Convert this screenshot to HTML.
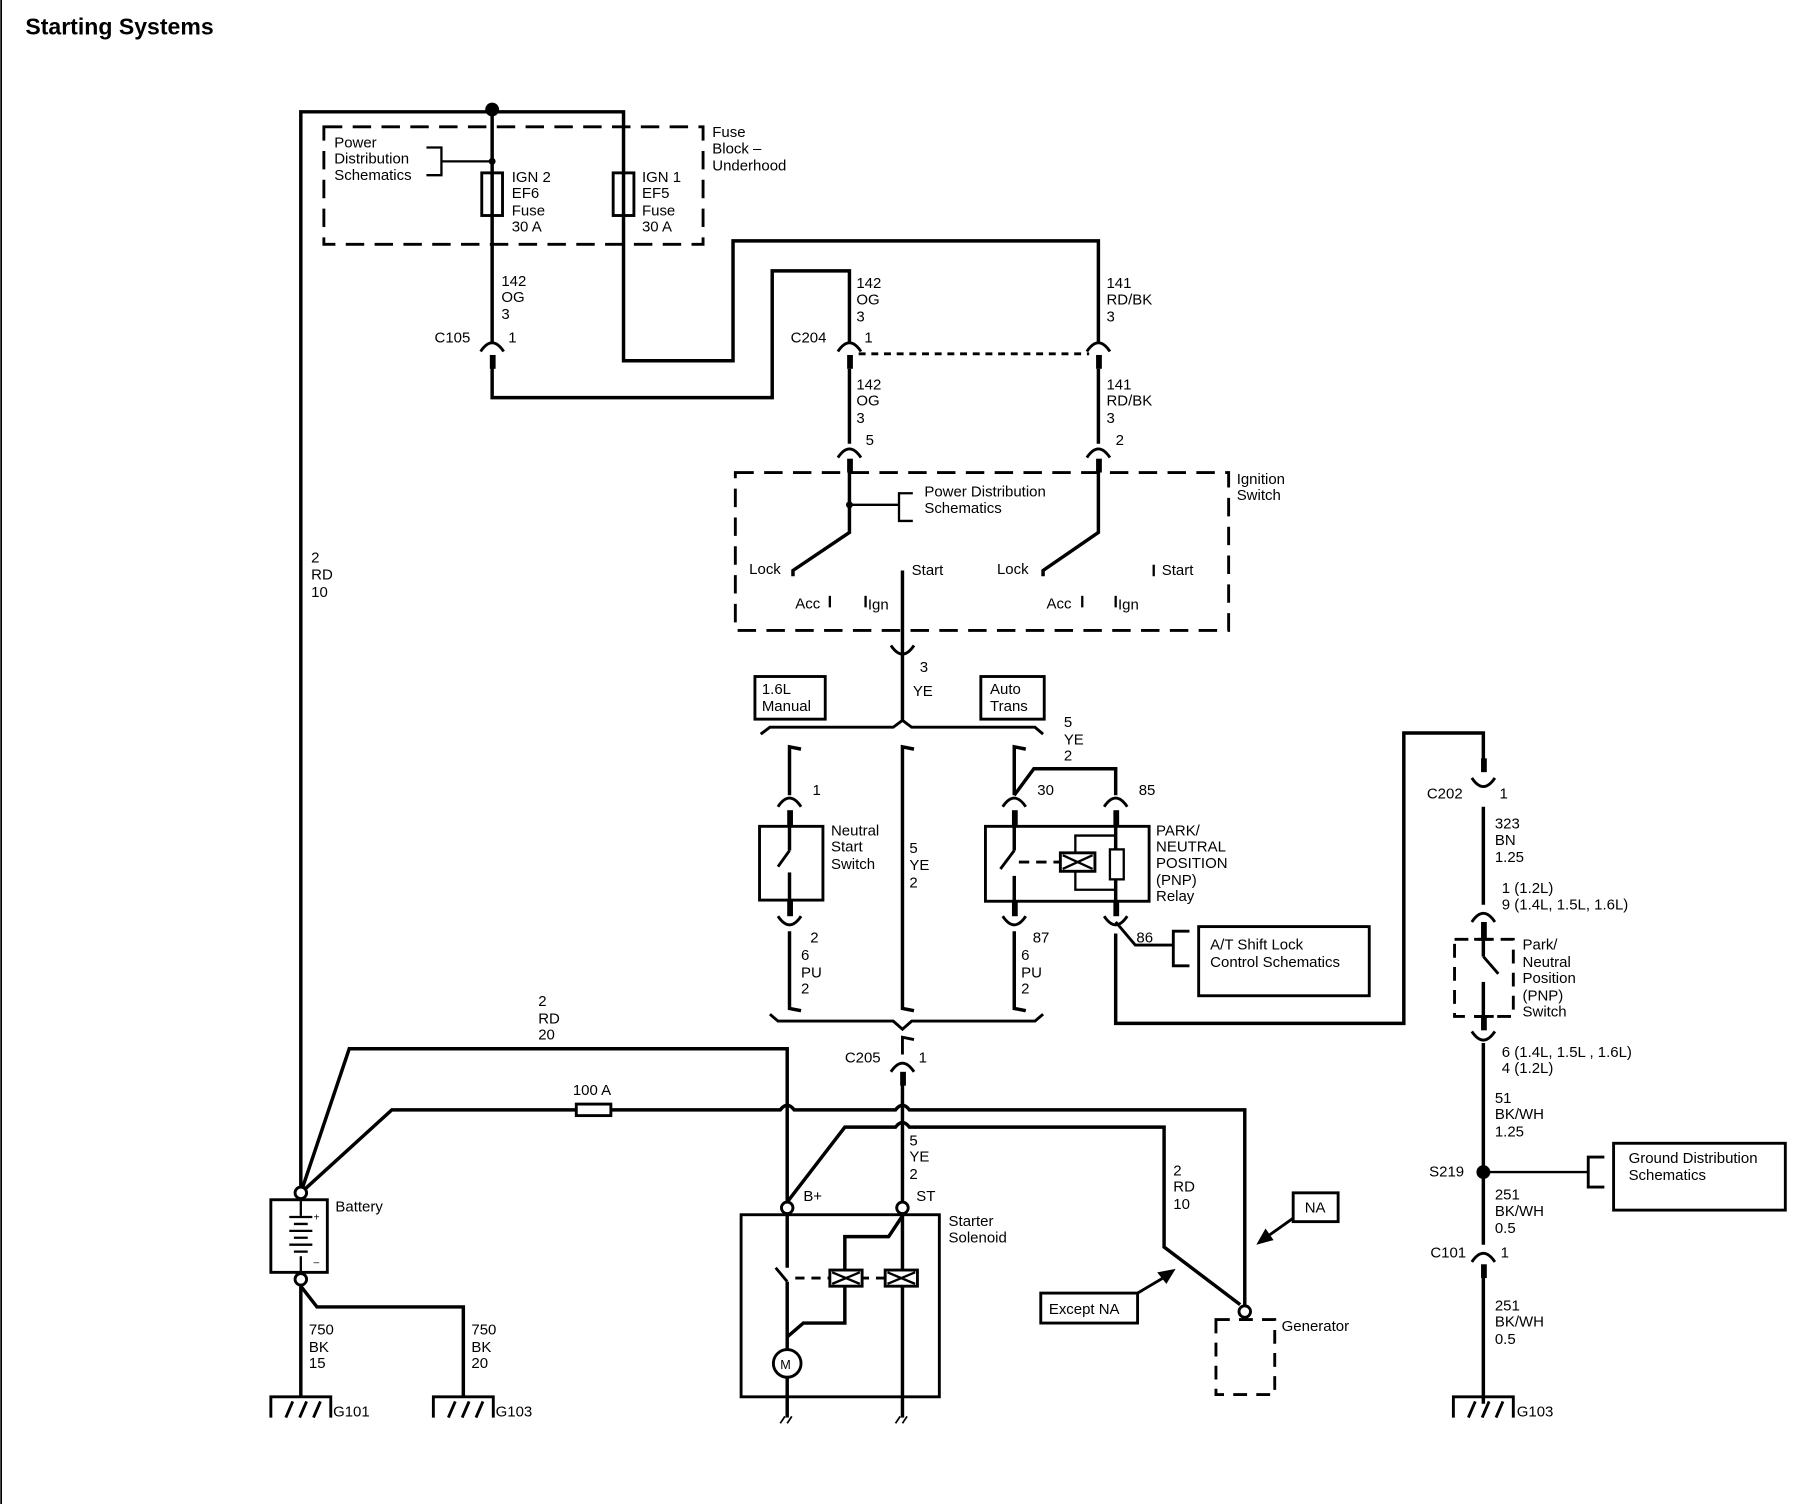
<!DOCTYPE html>
<html><head><meta charset="utf-8"><style>
html,body{margin:0;padding:0;background:#fff}
svg{display:block}
text{font-family:"Liberation Sans",sans-serif;font-size:13px;fill:#000}
</style></head><body>
<svg width="1798" height="1504" viewBox="0 0 1560 1305" preserveAspectRatio="none" xmlns="http://www.w3.org/2000/svg">
<rect x="0" y="0" width="1560" height="1305" fill="#fff"/>
<line x1="1" y1="0" x2="1" y2="1305" stroke="#000" stroke-width="1.5"/>
<text x="22" y="30" style="font-size:20px;font-weight:bold">Starting Systems</text>
<g fill="none" stroke="#000" stroke-width="3">
<polyline points="261,1035 261,97 541,97 541,313 636,313 636,209 953,209 953,298"/>
<line x1="427" y1="97" x2="427" y2="297"/>
<polyline points="427,318 427,345 670,345 670,235 737,235 737,297"/>
<rect x="418" y="150" width="18" height="37" stroke-width="2.5"/>
<rect x="532" y="150" width="18" height="37" stroke-width="2.5"/>
<polyline points="370,128 383,128 383,152 370,152" stroke-width="2"/>
<line x1="383" y1="140" x2="427" y2="140" stroke-width="2"/>
<line x1="737" y1="320" x2="737" y2="385"/>
<line x1="953" y1="320" x2="953" y2="385"/>
<polyline points="737,407 737,462 688,495 688,500"/>
<polyline points="953,407 953,462 905,495 905,500"/>
<line x1="737" y1="438" x2="780" y2="438" stroke-width="2"/>
<polyline points="792,428 780,428 780,452 792,452" stroke-width="2"/>
<line x1="783" y1="495" x2="783" y2="625"/>
<polyline points="660,637 668,631 775,631 783,625 791,631 898,631 905,637" stroke-width="2.5"/>
<polyline points="668,880 675,886 775,886 783,893 791,886 898,886 905,880" stroke-width="2.5"/>
<polyline points="695,650 685,648 685,690" />
<polyline points="793,650 783,648 783,875 793,877"/>
<polyline points="890,650 880,648 880,690"/>
<polyline points="685,808 685,875 695,877"/>
<polyline points="880,808 880,875 890,877"/>
<rect x="659" y="717" width="55" height="64" stroke-width="2.5"/>
<line x1="685" y1="717" x2="685" y2="738"/>
<line x1="685" y1="738" x2="675" y2="752" stroke-width="2.5"/>
<line x1="685" y1="757" x2="685" y2="781"/>
<polyline points="880,690 897,667 968,667 968,690"/>
<rect x="855" y="717" width="142" height="65" stroke-width="2.5"/>
<line x1="880" y1="717" x2="880" y2="738"/>
<line x1="880" y1="738" x2="868" y2="754" stroke-width="2.5"/>
<line x1="880" y1="760" x2="880" y2="782"/>
<line x1="884" y1="748" x2="920" y2="748" stroke-dasharray="9,6" stroke-width="2.5"/>
<line x1="968" y1="717" x2="968" y2="782"/>
<rect x="963" y="737" width="12" height="26" stroke-width="2" fill="#fff"/>
<polyline points="968,725 933,725 933,772 968,772" stroke-width="2"/>
<rect x="920" y="740" width="30" height="16" stroke-width="2.5" fill="#fff"/>
<path d="M922,742 L948,754 M922,754 L948,742" stroke-width="2"/>
<polyline points="968,800 985,820 1018,820" stroke-width="2.5"/>
<polyline points="1032,808 1018,808 1018,838 1032,838" stroke-width="2.5"/>
<rect x="1040" y="804" width="148" height="60" stroke-width="2.5"/>
<polyline points="968,810 968,888 1218,888 1218,636 1287,636 1287,668"/>
<line x1="1287" y1="700" x2="1287" y2="785"/>
<rect x="1262" y="815" width="51" height="67" stroke-width="2.5" stroke-dasharray="12,8"/>
<line x1="1287" y1="808" x2="1287" y2="830"/>
<line x1="1287" y1="830" x2="1300" y2="845" stroke-width="2.5"/>
<line x1="1287" y1="852" x2="1287" y2="882"/>
<line x1="1279" y1="815" x2="1296" y2="815" stroke-width="2.5"/>
<line x1="1279" y1="882" x2="1296" y2="882" stroke-width="2.5"/>
<line x1="1287" y1="905" x2="1287" y2="1080"/>
<line x1="1287" y1="1017" x2="1378" y2="1017" stroke-width="2"/>
<polyline points="1392,1004 1378,1004 1378,1030 1392,1030" stroke-width="2.5"/>
<rect x="1400" y="992" width="149" height="58" stroke-width="2.5"/>
<line x1="1287" y1="1100" x2="1287" y2="1218"/>
<rect x="638" y="410" width="428" height="137" stroke-width="2.5" stroke-dasharray="16,9"/>
<rect x="281" y="110" width="329" height="102" stroke-width="2.5" stroke-dasharray="16,9"/>
<line x1="745" y1="307" x2="945" y2="307" stroke-dasharray="6,5" stroke-width="2.5"/>
<line x1="783" y1="940" x2="783" y2="1043"/>
<polyline points="261,1035 303,910 683,910 683,1043"/>
<path d="M261,1035 L340,963 L500,963 M530,963 L677,963 Q683,955 689,963 L777,963 Q783,955 789,963 L1080,963 L1080,1132"/>
<rect x="500" y="958" width="30" height="10" stroke-width="2.5" fill="#fff"/>
<path d="M683,1043 L733,978 L777,978 Q783,970 789,978 L1010,978 L1010,1082 L1076,1132"/>
<rect x="643" y="1054" width="172" height="158" stroke-width="2.5"/>
<line x1="683" y1="1054" x2="683" y2="1100"/>
<line x1="673" y1="1100" x2="683" y2="1112" stroke-width="2.5"/>
<line x1="683" y1="1112" x2="683" y2="1171"/>
<line x1="683" y1="1195" x2="683" y2="1230"/>
<circle cx="683" cy="1183" r="12" stroke-width="2.5"/>
<line x1="783" y1="1054" x2="783" y2="1230"/>
<polyline points="783,1055 771,1073 733,1073 733,1102"/>
<polyline points="733,1116 733,1148 697,1148 683,1160"/>
<line x1="690" y1="1109" x2="768" y2="1109" stroke-width="2.5" stroke-dasharray="8,6"/>
<rect x="720" y="1102" width="28" height="14" stroke-width="2.5" fill="#fff"/>
<rect x="768" y="1102" width="28" height="14" stroke-width="2.5" fill="#fff"/>
<path d="M722,1104 L746,1114 M722,1114 L746,1104 M770,1104 L794,1114 M770,1114 L794,1104" stroke-width="2"/>
<rect x="235" y="1041" width="49" height="63" stroke-width="2.5"/>
<line x1="261" y1="1041" x2="261" y2="1055" stroke-width="2"/>
<line x1="261" y1="1090" x2="261" y2="1104" stroke-width="2"/>
<path d="M251,1056 H271 M255,1062 H267 M251,1068 H271 M255,1074 H267 M251,1080 H271 M255,1086 H267" stroke-width="2"/>
<polyline points="261,1116 261,1212"/>
<polyline points="261,1116 275,1134 402,1134 402,1212"/>
<rect x="1055" y="1145" width="51" height="65" stroke-width="2.5" stroke-dasharray="12,8"/>
<rect x="903" y="1122" width="84" height="26" stroke-width="2.5"/>
<rect x="1122" y="1035" width="39" height="25" stroke-width="2.5"/>
<line x1="987" y1="1122" x2="1014" y2="1106" stroke-width="2.5"/>
<line x1="1122" y1="1057" x2="1098" y2="1074" stroke-width="2.5"/>
<rect x="655" y="587" width="61" height="37" stroke-width="2.5"/>
<rect x="851" y="587" width="55" height="37" stroke-width="2.5"/>
<g stroke-width="2.5">
<path d="M235,1230 V1212 H287 V1230 M248,1230 L254,1216 M260,1230 L266,1216 M272,1230 L278,1216"/>
<path d="M376,1230 V1212 H428 V1230 M389,1230 L395,1216 M401,1230 L407,1216 M413,1230 L419,1216"/>
<path d="M1261,1230 V1212 H1313 V1230 M1274,1230 L1280,1216 M1286,1230 L1292,1216 M1298,1230 L1304,1216"/>
<path d="M677,1235 L681,1229 M683,1235 L687,1229 M777,1235 L781,1229 M783,1235 L787,1229" stroke-width="1.5"/>
</g>
<g stroke-width="2.5">
<path d="M417,305 Q427,290 437,305"/>
<path d="M727,305 Q737,290 747,305"/>
<path d="M943,305 Q953,290 963,305"/>
<path d="M727,397 Q737,382 747,397"/>
<path d="M943,397 Q953,382 963,397"/>
<path d="M675,700 Q685,685 695,700"/>
<path d="M870,700 Q880,685 890,700"/>
<path d="M958,700 Q968,685 978,700"/>
<path d="M675,795 Q685,810 695,795"/>
<path d="M870,795 Q880,810 890,795"/>
<path d="M958,795 Q968,810 978,795"/>
<path d="M773,930 Q783,915 793,930"/>
<path d="M793,902 L783,900 L783,915"/>
<path d="M773,560 Q783,575 793,560 M783,575 V580"/>
<path d="M1277,675 Q1287,690 1297,675"/>
<path d="M1277,800 Q1287,785 1297,800"/>
<path d="M1277,895 Q1287,910 1297,895"/>
<path d="M1277,1095 Q1287,1080 1297,1095"/>
</g>
</g>
<g fill="#000">
<rect x="425" y="308" width="5" height="12"/>
<rect x="735" y="308" width="5" height="12"/>
<rect x="951" y="308" width="5" height="12"/>
<rect x="735" y="398" width="5" height="12"/>
<rect x="951" y="398" width="5" height="12"/>
<rect x="683" y="703" width="5" height="14"/>
<rect x="878" y="703" width="5" height="14"/>
<rect x="966" y="703" width="5" height="14"/>
<rect x="683" y="781" width="5" height="14"/>
<rect x="878" y="781" width="5" height="14"/>
<rect x="966" y="781" width="5" height="14"/>
<rect x="781" y="930" width="5" height="12"/>
<rect x="1285" y="658" width="5" height="12"/>
<rect x="1285" y="800" width="5" height="16"/>
<rect x="1285" y="882" width="5" height="12"/>
<rect x="1285" y="1097" width="5" height="12"/>
<circle cx="427" cy="95" r="6"/>
<circle cx="427" cy="140" r="3"/>
<circle cx="737" cy="438" r="3"/>
<circle cx="1287" cy="1017" r="6"/>
<rect x="719" y="517" width="2" height="10"/><rect x="750" y="517" width="2" height="10"/>
<rect x="938" y="517" width="2" height="10"/><rect x="967" y="517" width="2" height="10"/>
<rect x="1000" y="490" width="2" height="10"/>
</g>
<g fill="#fff" stroke="#000" stroke-width="2.5">
<circle cx="683" cy="1048" r="5"/><circle cx="783" cy="1048" r="5"/>
<circle cx="261" cy="1035" r="5"/><circle cx="261" cy="1110" r="5"/>
<circle cx="1080" cy="1138" r="5"/>
</g>
<polygon points="1020,1101 1004,1104 1012,1114" fill="#000"/>
<polygon points="1090,1080 1098,1066 1105,1076" fill="#000"/>
<text x="290" y="128">Power</text><text x="290" y="142">Distribution</text><text x="290" y="156">Schematics</text>
<text x="444" y="158">IGN 2</text><text x="444" y="172">EF6</text><text x="444" y="187">Fuse</text><text x="444" y="201">30 A</text>
<text x="557" y="158">IGN 1</text><text x="557" y="172">EF5</text><text x="557" y="187">Fuse</text><text x="557" y="201">30 A</text>
<text x="618" y="119">Fuse</text><text x="618" y="133">Block –</text><text x="618" y="148">Underhood</text>
<text x="435" y="248">142</text><text x="435" y="262">OG</text><text x="435" y="277">3</text>
<text x="377" y="297">C105</text><text x="441" y="297">1</text>
<text x="743" y="250">142</text><text x="743" y="264">OG</text><text x="743" y="279">3</text>
<text x="686" y="297">C204</text><text x="750" y="297">1</text>
<text x="960" y="250">141</text><text x="960" y="264">RD/BK</text><text x="960" y="279">3</text>
<text x="743" y="338">142</text><text x="743" y="352">OG</text><text x="743" y="367">3</text><text x="751" y="386">5</text>
<text x="960" y="338">141</text><text x="960" y="352">RD/BK</text><text x="960" y="367">3</text><text x="968" y="386">2</text>
<text x="1073" y="420">Ignition</text><text x="1073" y="434">Switch</text>
<text x="802" y="431">Power Distribution</text><text x="802" y="445">Schematics</text>
<text x="650" y="498">Lock</text><text x="690" y="528">Acc</text><text x="753" y="529">Ign</text><text x="791" y="499">Start</text>
<text x="865" y="498">Lock</text><text x="908" y="528">Acc</text><text x="970" y="529">Ign</text><text x="1008" y="499">Start</text>
<text x="270" y="488">2</text><text x="270" y="503">RD</text><text x="270" y="518">10</text>
<text x="798" y="583">3</text><text x="792" y="604">YE</text>
<text x="661" y="602">1.6L</text><text x="661" y="617">Manual</text>
<text x="859" y="602">Auto</text><text x="859" y="617">Trans</text>
<text x="923" y="631">5</text><text x="923" y="646">YE</text><text x="923" y="660">2</text>
<text x="705" y="690">1</text>
<text x="900" y="690">30</text><text x="988" y="690">85</text>
<text x="721" y="725">Neutral</text><text x="721" y="739">Start</text><text x="721" y="754">Switch</text>
<text x="789" y="740">5</text><text x="789" y="755">YE</text><text x="789" y="770">2</text>
<text x="1003" y="725">PARK/</text><text x="1003" y="739">NEUTRAL</text><text x="1003" y="753">POSITION</text><text x="1003" y="768">(PNP)</text><text x="1003" y="782">Relay</text>
<text x="703" y="818">2</text><text x="695" y="833">6</text><text x="695" y="848">PU</text><text x="695" y="862">2</text>
<text x="896" y="818">87</text><text x="886" y="833">6</text><text x="886" y="848">PU</text><text x="886" y="862">2</text>
<text x="986" y="818">86</text>
<text x="1050" y="824">A/T Shift Lock</text><text x="1050" y="839">Control Schematics</text>
<text x="1238" y="693">C202</text><text x="1301" y="693">1</text>
<text x="1297" y="719">323</text><text x="1297" y="733">BN</text><text x="1297" y="748">1.25</text>
<text x="1303" y="775">1 (1.2L)</text><text x="1303" y="789">9 (1.4L, 1.5L, 1.6L)</text>
<text x="1321" y="824">Park/</text><text x="1321" y="839">Neutral</text><text x="1321" y="853">Position</text><text x="1321" y="868">(PNP)</text><text x="1321" y="882">Switch</text>
<text x="1303" y="917">6 (1.4L, 1.5L , 1.6L)</text><text x="1303" y="931">4 (1.2L)</text>
<text x="1297" y="957">51</text><text x="1297" y="971">BK/WH</text><text x="1297" y="986">1.25</text>
<text x="1240" y="1021">S219</text>
<text x="1413" y="1009">Ground Distribution</text><text x="1413" y="1024">Schematics</text>
<text x="1297" y="1041">251</text><text x="1297" y="1055">BK/WH</text><text x="1297" y="1070">0.5</text>
<text x="1241" y="1091">C101</text><text x="1302" y="1091">1</text>
<text x="1297" y="1137">251</text><text x="1297" y="1151">BK/WH</text><text x="1297" y="1166">0.5</text>
<text x="1316" y="1229">G103</text>
<text x="467" y="873">2</text><text x="467" y="888">RD</text><text x="467" y="902">20</text>
<text x="733" y="922">C205</text><text x="797" y="922">1</text>
<text x="497" y="950">100 A</text>
<text x="789" y="994">5</text><text x="789" y="1008">YE</text><text x="789" y="1023">2</text>
<text x="697" y="1042">B+</text><text x="795" y="1042">ST</text>
<text x="823" y="1064">Starter</text><text x="823" y="1078">Solenoid</text>
<text x="1018" y="1020">2</text><text x="1018" y="1034">RD</text><text x="1018" y="1049">10</text>
<text x="1132" y="1052">NA</text>
<text x="910" y="1140">Except NA</text>
<text x="1112" y="1155">Generator</text>
<text x="291" y="1051">Battery</text>
<text x="272" y="1059" style="font-size:9px">+</text><text x="272" y="1098" style="font-size:9px">–</text>
<text x="677" y="1188" style="font-size:11px">M</text>
<text x="268" y="1158">750</text><text x="268" y="1173">BK</text><text x="268" y="1187">15</text>
<text x="409" y="1158">750</text><text x="409" y="1173">BK</text><text x="409" y="1187">20</text>
<text x="289" y="1229">G101</text><text x="430" y="1229">G103</text>
</svg>
</body></html>
